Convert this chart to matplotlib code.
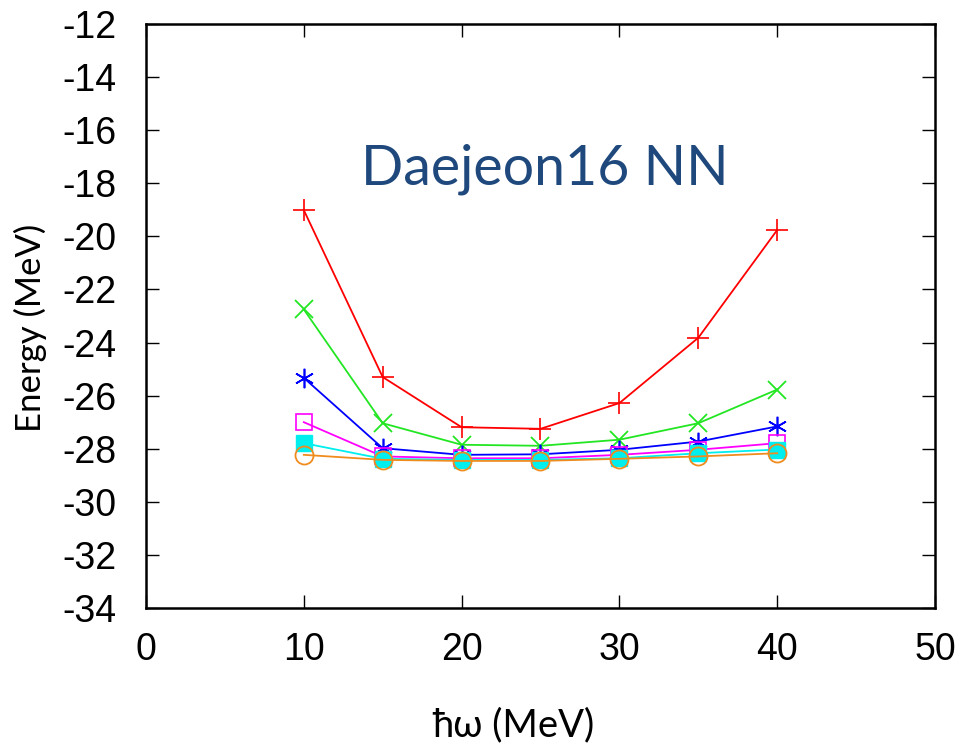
import matplotlib
matplotlib.use("Agg")
import matplotlib.pyplot as plt

# oscillator frequency (MeV)
hw = [10, 15, 20, 25, 30, 35, 40]

# ground state energies (MeV) for increasing basis size
e_red = [-19.01, -25.30, -27.19, -27.25, -26.28, -23.82, -19.76]
e_green = [-22.75, -27.04, -27.85, -27.89, -27.66, -27.04, -25.77]
e_blue = [-25.33, -27.98, -28.23, -28.21, -28.04, -27.73, -27.16]
e_magenta = [-27.00, -28.29, -28.36, -28.36, -28.23, -28.04, -27.79]
e_cyan = [-27.79, -28.38, -28.42, -28.42, -28.36, -28.17, -28.03]
e_orange = [-28.23, -28.42, -28.46, -28.46, -28.38, -28.29, -28.17]

yticks = list(range(-34, -11, 2))

fig = plt.figure(figsize=(9.7, 7.5), dpi=100)
ax = fig.add_axes([146 / 970, 1 - 608 / 750, (935 - 146) / 970, (608 - 24) / 750])

lw = 1.3
ax.plot(hw, e_red, color="#ff0000", marker="+", ms=16, mew=1.2, lw=lw)
ax.plot(hw, e_green, color="#22e622", marker="x", ms=13, mew=1.3, lw=lw)
ax.plot(hw, e_blue, color="#0000ff", marker=(6, 2, 0), ms=14, mew=1.2, lw=lw)
ax.plot(hw, e_magenta, color="#ff00ff", marker="s", ms=12, mew=1.2, lw=lw,
        mfc="none")
ax.plot(hw, e_cyan, color="#00eeee", marker="s", ms=12, mew=1.0, lw=lw)
ax.plot(hw, e_orange, color="#f08c1e", marker="o", ms=13, mew=1.3, lw=lw,
        mfc="none")

ax.set_xlim(0, 50)
ax.set_ylim(-34, -12)
ax.set_xticks(range(0, 51, 10))
ax.set_yticks(yticks)
ax.set_yticklabels([f"-{abs(v)}" for v in yticks])

for s in ax.spines.values():
    s.set_linewidth(1.8)
ax.tick_params(direction="in", length=9.5, width=1.0, top=True, right=True,
               labelsize=27)
ax.tick_params(axis="x", pad=17)
ax.tick_params(axis="y", pad=21)
for lab in ax.get_xticklabels() + ax.get_yticklabels():
    lab.set_family("Liberation Sans")

ax.set_ylabel("Energy (MeV)", fontsize=25, family=["Lato", "DejaVu Sans"],
              va="center")
ax.yaxis.set_label_coords(-0.146, 0.48)
ax.set_xlabel("ħω (MeV)", fontsize=27.5, family=["Lato", "DejaVu Sans"],
              va="center")
ax.xaxis.set_label_coords(0.465, -0.20)

ax.text(0.5057, 0.752, "Daejeon16 NN", transform=ax.transAxes, fontsize=40,
        color="#1f497d", ha="center", va="center", family=["Lato", "DejaVu Sans"])

fig.savefig("out.png", dpi=100)
